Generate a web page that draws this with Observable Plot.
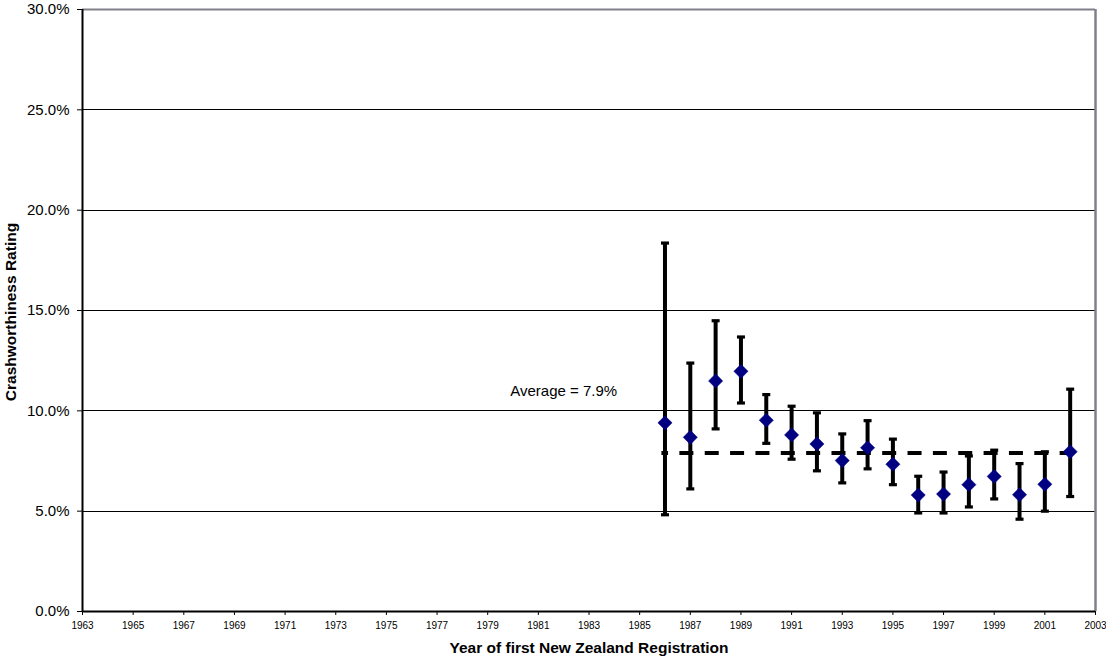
<!DOCTYPE html>
<html>
<head>
<meta charset="utf-8">
<script src="https://cdn.jsdelivr.net/npm/d3@7"></script>
<script src="https://cdn.jsdelivr.net/npm/@observablehq/plot@0.6"></script>
<style>
  html, body { margin: 0; padding: 0; background: #fff; }
  #chart svg { display: block; }
</style>
</head>
<body>
<div id="chart"></div>
<script>
// ---- data ----
const years   = [1986, 1987, 1988, 1989, 1990, 1991, 1992, 1993, 1994, 1995, 1996, 1997, 1998, 1999, 2000, 2001, 2002];
const ratings = [9.40, 8.68, 11.49, 11.97, 9.53, 8.80, 8.35, 7.52, 8.16, 7.34, 5.80, 5.85, 6.32, 6.73, 5.82, 6.34, 7.96];
const lower   = [4.82, 6.11, 9.10, 10.39, 8.38, 7.59, 7.01, 6.41, 7.11, 6.32, 4.91, 4.91, 5.21, 5.61, 4.60, 5.00, 5.73];
const upper   = [18.36, 12.38, 14.49, 13.68, 10.81, 10.23, 9.90, 8.85, 9.51, 8.59, 6.74, 6.95, 7.75, 8.04, 7.37, 7.96, 11.08];
const average = 7.9;
const averageLabel = "Average = 7.9%";
const averageLabelYear = 1982;
const averageLabelValue = 11.0;
const xTicks = d3.range(1963, 2004, 2);
const yTicks = [0, 5, 10, 15, 20, 25, 30];
const xTitle = "Year of first New Zealand Registration";
const yTitle = "Crashworthiness Rating";

const data = years.map((year, i) => ({
  year, value: ratings[i] / 100, lo: lower[i] / 100, hi: upper[i] / 100
}));

const capSymbol = {
  draw(ctx) { ctx.rect(-4, -1.6, 8, 3.2); }
};

const chart = Plot.plot({
  width: 1106,
  height: 662,
  marginLeft: 82,
  marginRight: 11,
  marginTop: 9,
  marginBottom: 51,
  style: { fontFamily: "'Liberation Sans', Arial, sans-serif", color: "#000", background: "#fff" },
  x: { domain: [1963, 2003] },
  y: { domain: [0, 0.30] },
  marks: [
    // gridlines
    Plot.ruleY(yTicks.slice(1, -1).map(d => d / 100), { stroke: "#000", strokeWidth: 1, shapeRendering: "crispEdges" }),
    // plot area border (top/right)
    Plot.ruleY([yTicks.at(-1) / 100], { stroke: "#80808a", strokeWidth: 2 }),
    Plot.ruleX([xTicks.at(-1)], { stroke: "#80808a", strokeWidth: 2.5 }),
    // axes
    Plot.axisY({
      ticks: yTicks.map(d => d / 100),
      tickFormat: d3.format(".1%"),
      tickSize: 5, tickPadding: 8, fontSize: 15, label: null, stroke: "#000"
    }),
    Plot.axisX({
      ticks: xTicks,
      tickFormat: d => String(d),
      tickSize: 4, tickPadding: 6, fontSize: 10, label: null, stroke: "#000"
    }),
    Plot.ruleX([xTicks[0]], { stroke: "#000", strokeWidth: 2 }),
    Plot.ruleY([0], { stroke: "#000", strokeWidth: 2 }),
    // average line
    Plot.ruleY([average / 100], {
      x1: years[0] - 0.12, x2: years.at(-1) + 0.3,
      stroke: "#000", strokeWidth: 4,
      strokeDasharray: "14,11.35", strokeDashoffset: 7.4
    }),
    Plot.text([averageLabel], {
      x: averageLabelYear, y: averageLabelValue / 100, text: d => d,
      fontSize: 15, fill: "#000", textAnchor: "middle"
    }),
    // error bars
    Plot.ruleX(data, { x: "year", y1: "lo", y2: "hi", stroke: "#000", strokeWidth: 4 }),
    Plot.dot(data, { x: "year", y: "hi", symbol: capSymbol, fill: "#000", stroke: "none", r: 4 }),
    Plot.dot(data, { x: "year", y: "lo", symbol: capSymbol, fill: "#000", stroke: "none", r: 4 }),
    // points
    Plot.dot(data, { x: "year", y: "value", symbol: "diamond2", r: 6.4, fill: "#000080", stroke: "#000080", strokeWidth: 0.5 }),
    // axis titles
    Plot.text([yTitle], {
      frameAnchor: "left", text: d => d, rotate: -90, dx: -71, dy: 1.5,
      fontSize: 15.5, fontWeight: "bold", fill: "#000", textAnchor: "middle"
    }),
    Plot.text([xTitle], {
      frameAnchor: "bottom", text: d => d, dy: 41,
      fontSize: 15.5, fontWeight: "bold", fill: "#000", textAnchor: "middle"
    })
  ]
});

document.getElementById("chart").appendChild(chart);
</script>
</body>
</html>
